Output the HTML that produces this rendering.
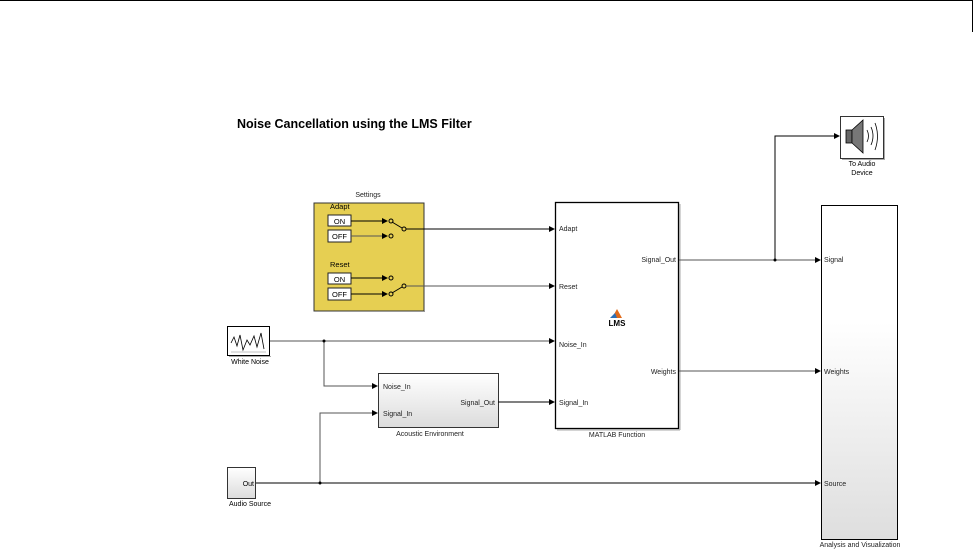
<!DOCTYPE html>
<html><head><meta charset="utf-8"><style>
html,body{margin:0;padding:0;background:#fff;}
svg{display:block;}
text{font-family:"Liberation Sans",Arial,sans-serif;}
</style></head><body>
<svg width="973" height="559" viewBox="0 0 973 559" xmlns="http://www.w3.org/2000/svg">
<defs>
<linearGradient id="g" x1="0" y1="0" x2="0" y2="1"><stop offset="0" stop-color="#ffffff"/><stop offset="1" stop-color="#dcdcdc"/></linearGradient>
<linearGradient id="g2" x1="0" y1="0" x2="0" y2="1"><stop offset="0" stop-color="#ffffff"/><stop offset="0.35" stop-color="#ffffff"/><stop offset="1" stop-color="#dedede"/></linearGradient>
</defs>
<line x1="0" y1="0.5" x2="972" y2="0.5" stroke="#000" stroke-width="1"/>
<line x1="972.5" y1="0" x2="972.5" y2="32" stroke="#000" stroke-width="1"/>

<text x="237" y="128" font-size="12.5" font-weight="bold">Noise Cancellation using the LMS Filter</text>

<!-- Settings -->
<text x="368" y="197" font-size="7" text-anchor="middle" fill="#222">Settings</text>
<rect x="314" y="203" width="110" height="108" fill="#e6cf52" stroke="#333" stroke-width="1"/>
<line x1="315" y1="311.5" x2="425" y2="311.5" stroke="#999"/>
<text x="330" y="209" font-size="7.5">Adapt</text>
<text x="330" y="267" font-size="7.5">Reset</text>
<g font-size="7.5" text-anchor="middle">
<rect x="328" y="215" width="23" height="11" fill="#fff" stroke="#222"/><text x="339.5" y="224">ON</text>
<rect x="328" y="230" width="23" height="12" fill="#fff" stroke="#222"/><text x="339.5" y="239">OFF</text>
<rect x="328" y="273" width="23" height="11" fill="#fff" stroke="#222"/><text x="339.5" y="282">ON</text>
<rect x="328" y="288" width="23" height="12" fill="#fff" stroke="#222"/><text x="339.5" y="297">OFF</text>
</g>
<g stroke="#000" stroke-width="1" fill="none">
<line x1="351" y1="221" x2="383" y2="221"/>
<line x1="351" y1="236" x2="383" y2="236" stroke="#555"/>
<line x1="351" y1="278" x2="383" y2="278"/>
<line x1="351" y1="294" x2="383" y2="294"/>
<circle cx="391" cy="221" r="2"/><circle cx="391" cy="236" r="2"/><circle cx="404" cy="229" r="2"/>
<line x1="392" y1="222" x2="402" y2="228"/>
<circle cx="391" cy="278" r="2"/><circle cx="391" cy="294" r="2"/><circle cx="404" cy="286" r="2"/>
<line x1="392" y1="293" x2="402" y2="287"/>
</g>
<g fill="#000">
<path d="M382,218 L388,221 L382,224Z"/><path d="M382,233 L388,236 L382,239Z"/>
<path d="M382,275 L388,278 L382,281Z"/><path d="M382,291 L388,294 L382,297Z"/>
</g>

<!-- MATLAB function -->
<rect x="555.5" y="202.5" width="123" height="226" fill="#fff" stroke="#000" stroke-width="1.3"/>
<line x1="557" y1="430" x2="680" y2="430" stroke="#aaa"/><line x1="680" y1="204" x2="680" y2="430" stroke="#aaa"/>
<g font-size="7" fill="#222">
<text x="559" y="231">Adapt</text><text x="559" y="289">Reset</text>
<text x="559" y="347">Noise_In</text><text x="559" y="405">Signal_In</text>
<text x="676" y="262" text-anchor="end">Signal_Out</text><text x="676" y="374" text-anchor="end">Weights</text>
<text x="617" y="437" text-anchor="middle">MATLAB Function</text>
</g>
<path d="M612,318 L617,309 L622,318 Z" fill="#e06a1b"/><path d="M610,318 L615,313 L617,318Z" fill="#2a6fb8"/>
<text x="617" y="326" font-size="8" font-weight="bold" text-anchor="middle">LMS</text>

<!-- Analysis -->
<rect x="821.5" y="205.5" width="76" height="334" fill="url(#g2)" stroke="#000" stroke-width="1"/>
<g font-size="7" fill="#222">
<text x="824" y="262">Signal</text><text x="824" y="374">Weights</text><text x="824" y="486">Source</text>
<text x="860" y="547" text-anchor="middle">Analysis and Visualization</text>
</g>

<!-- To Audio Device -->
<rect x="840.5" y="116.5" width="43" height="42" fill="#fff" stroke="#333"/>
<line x1="842" y1="159.5" x2="885" y2="159.5" stroke="#aaa"/><line x1="884.5" y1="118" x2="884.5" y2="160" stroke="#aaa"/>
<rect x="846" y="130" width="6" height="13" fill="#666" stroke="#000" stroke-width="0.8"/>
<path d="M852,130 L863,120 L863,153 L852,143Z" fill="#777" stroke="#000" stroke-width="0.8"/>
<path d="M867,130 Q870,136 867,142 M871,127 Q875,136 871,145 M875,123 Q880,136 875,150" stroke="#000" stroke-width="0.8" fill="none"/>
<text x="862" y="166" font-size="7" text-anchor="middle">To Audio</text>
<text x="862" y="175" font-size="7" text-anchor="middle">Device</text>

<!-- White noise -->
<rect x="227.5" y="326.5" width="42" height="29" fill="#fff" stroke="#000"/>
<line x1="229" y1="356.5" x2="271" y2="356.5" stroke="#aaa"/>
<path d="M231,343 L234,337 L237,346 L240,335 L243,350 L247,340 L250,345 L254,336 L257,347 L261,333 L264,349" stroke="#000" stroke-width="0.8" fill="none"/>
<line x1="231" y1="352" x2="266" y2="352" stroke="#888" stroke-width="0.6"/>
<text x="250" y="364" font-size="7" text-anchor="middle">White Noise</text>

<!-- Acoustic env -->
<rect x="378.5" y="373.5" width="120" height="54" fill="url(#g)" stroke="#333"/>
<g font-size="7" fill="#222">
<text x="383" y="389">Noise_In</text><text x="383" y="416">Signal_In</text>
<text x="495" y="405" text-anchor="end">Signal_Out</text>
<text x="430" y="436" text-anchor="middle">Acoustic Environment</text>
</g>

<!-- Audio Source -->
<rect x="227.5" y="467.5" width="28" height="31" fill="url(#g)" stroke="#333"/>
<text x="268" y="486" font-size="7" text-anchor="end" transform="translate(-14,0)">Out</text>
<text x="250" y="506" font-size="7" text-anchor="middle">Audio Source</text>

<!-- wires -->
<g stroke="#000" stroke-width="1" fill="none">
<line x1="406" y1="229" x2="550" y2="229"/>
<line x1="406" y1="286" x2="550" y2="286" stroke="#555"/>
<polyline points="270,341 550,341" stroke="#555"/>
<polyline points="324,341 324,386 373,386" stroke="#555"/>
<line x1="498" y1="402" x2="550" y2="402"/>
<line x1="256" y1="483" x2="816" y2="483"/>
<polyline points="320,483 320,413 373,413" stroke="#555"/>
<line x1="679" y1="260" x2="816" y2="260" stroke="#555"/>
<polyline points="775,260 775,136 835,136"/>
<line x1="679" y1="371" x2="816" y2="371" stroke="#555"/>
</g>
<g fill="#000">
<path d="M549,226 L555,229 L549,232Z"/><path d="M549,283 L555,286 L549,289Z"/>
<path d="M549,338 L555,341 L549,344Z"/><path d="M549,399 L555,402 L549,405Z"/>
<path d="M372,383 L378,386 L372,389Z"/><path d="M372,410 L378,413 L372,416Z"/>
<path d="M815,257 L821,260 L815,263Z"/><path d="M815,368 L821,371 L815,374Z"/><path d="M815,480 L821,483 L815,486Z"/>
<path d="M834,133 L840,136 L834,139Z"/>
<circle cx="324" cy="341" r="1.5"/><circle cx="320" cy="483" r="1.5"/><circle cx="775" cy="260" r="1.5"/>
</g>
</svg>
</body></html>
